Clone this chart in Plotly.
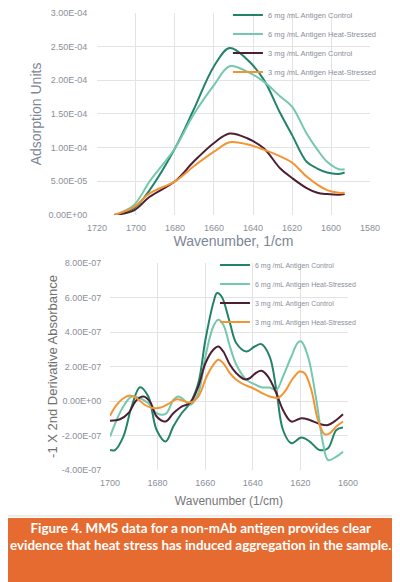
"""MMS spectra: absorbance and -1 x 2nd derivative for a non-mAb antigen"""

import plotly.graph_objects as go

# ---- top panel: absorbance spectra ----
wn_top = [1711, 1701, 1693, 1680, 1670.5, 1660, 1652, 1643, 1634.5, 1626, 1620,
          1612.5, 1607, 1602, 1596, 1593]
abs_6_ctrl = [0, 1.0e-5, 3.7e-5, 9.9e-5, 1.56e-4, 2.21e-4, 2.48e-4, 2.31e-4, 2.01e-4,
              1.51e-4, 1.19e-4, 7.9e-5, 6.9e-5, 6.3e-5, 6.1e-5, 6.3e-5]
abs_6_heat = [0, 1.5e-5, 5.0e-5, 9.9e-5, 1.49e-4, 1.93e-4, 2.21e-4, 2.13e-4, 1.98e-4,
              1.76e-4, 1.61e-4, 1.21e-4, 9.7e-5, 7.9e-5, 6.8e-5, 6.8e-5]
abs_3_ctrl = [0, 7e-6, 2.7e-5, 5.0e-5, 7.9e-5, 1.07e-4, 1.21e-4, 1.14e-4, 9.9e-5,
              6.9e-5, 5.5e-5, 4.0e-5, 3.3e-5, 3.1e-5, 3.0e-5, 3.1e-5]
abs_3_heat = [0, 1.2e-5, 3.2e-5, 5.0e-5, 7.2e-5, 9.4e-5, 1.08e-4, 1.05e-4, 9.7e-5,
              8.7e-5, 7.8e-5, 5.7e-5, 4.5e-5, 3.7e-5, 3.3e-5, 3.3e-5]

top_ytickvals = [0, 5e-5, 1e-4, 1.5e-4, 2e-4, 2.5e-4, 3e-4]
top_yticktext = ["0.00E+00", "5.00E-05", "1.00E-04", "1.50E-04", "2.00E-04",
                 "2.50E-04", "3.00E-04"]

# ---- bottom panel: -1 x 2nd derivative ----
wn_6_ctrl = [1700, 1697.9, 1694.4, 1690.9, 1687.4, 1683.9, 1680.4, 1676.6, 1673.4,
             1669.9, 1666.4, 1662.9, 1659.9, 1656.6, 1655, 1653.1, 1649.6, 1646.9,
             1642.7, 1639.2, 1636.4, 1632.9, 1630.1, 1627.3, 1623.8, 1619.6, 1616.1,
             1611.9, 1608.4, 1604.9, 1602.1]
d2_6_ctrl = [-2.84e-7, -2.84e-7, -2.06e-7, -3.2e-8, 8.0e-8, 2.6e-8, -1.68e-7, -2.35e-7,
             -1.48e-7, -7.1e-8, -1.3e-8, 1.03e-7, 3.55e-7, 5.68e-7, 6.26e-7, 6.06e-7,
             4.52e-7, 3.35e-7, 2.87e-7, 3.16e-7, 3.30e-7, 2.58e-7, 6.4e-8, -1.68e-7,
             -2.45e-7, -2.12e-7, -2.35e-7, -2.84e-7, -2.74e-7, -1.68e-7, -1.54e-7]

wn_6_heat = [1700, 1697.2, 1694.4, 1690.9, 1687.4, 1683.9, 1680.4, 1676.6, 1673.4,
             1671.3, 1669.2, 1666.4, 1662.9, 1659.9, 1656.6, 1654.5, 1652.4, 1649.6,
             1646.9, 1642.7, 1639.2, 1636.4, 1632.9, 1630.1, 1627.3, 1623.8, 1621,
             1619.6, 1616.8, 1613.3, 1610.5, 1608.4, 1604.9, 1602.1]
d2_6_heat = [-2.06e-7, -1.10e-7, -3.2e-8, 2.6e-8, 1.6e-8, -1.3e-8, -7.1e-8, -7.5e-8,
             6e-9, 2.6e-8, 1e-8, -2.3e-8, 4.5e-8, 2.58e-7, 4.32e-7, 4.71e-7, 4.42e-7,
             3.16e-7, 2.10e-7, 1.23e-7, 9.7e-8, 8.0e-8, 7.8e-8, 6.4e-8, 1.42e-7,
             2.58e-7, 3.39e-7, 3.45e-7, 2.58e-7, 6e-9, -2.45e-7, -3.42e-7, -3.23e-7,
             -2.94e-7]

wn_3_ctrl = [1700, 1695.8, 1692.3, 1688.8, 1686, 1683.2, 1680.4, 1676.6, 1673.4,
             1669.9, 1666.4, 1662.9, 1659.9, 1656.6, 1654.5, 1652.4, 1649.6, 1646.9,
             1643.4, 1641.3, 1638.5, 1636.4, 1633.6, 1630.1, 1627.3, 1623.8, 1619.6,
             1616.1, 1611.9, 1608.4, 1604.9, 1602.1]
d2_3_ctrl = [-1.14e-7, -1.06e-7, -7.1e-8, 6e-9, 2.6e-8, -3e-9, -9.0e-8, -1.19e-7,
             -7.1e-8, -3.2e-8, -1.3e-8, 8.4e-8, 2.19e-7, 2.97e-7, 3.16e-7, 2.87e-7,
             2.10e-7, 1.61e-7, 1.26e-7, 1.32e-7, 1.65e-7, 1.75e-7, 1.42e-7, 4.5e-8,
             -5.2e-8, -1.19e-7, -1.0e-7, -1.1e-7, -1.33e-7, -1.39e-7, -1.10e-7, -7.7e-8]

wn_3_heat = [1700, 1697.2, 1694.4, 1691.6, 1688.8, 1685.3, 1682.5, 1679, 1675.5, 1672,
             1669.2, 1666.4, 1662.9, 1659.4, 1656.6, 1654.5, 1652.4, 1649.6, 1646.9,
             1643.4, 1639.9, 1636.4, 1632.9, 1629.4, 1626.6, 1623.1, 1620.3, 1618.2,
             1615.4, 1612.6, 1609.8, 1607.7, 1604.9, 1602.1]
d2_3_heat = [-8.5e-8, -2.3e-8, 1.6e-8, 3.2e-8, 1.6e-8, -2.3e-8, -3.9e-8, -3.9e-8,
             -1.7e-8, 1e-8, 2e-9, -9e-9, 2.6e-8, 1.42e-7, 2.10e-7, 2.39e-7, 2.19e-7,
             1.61e-7, 1.23e-7, 9.3e-8, 7.4e-8, 4.8e-8, 2.6e-8, 1.9e-8, 5.4e-8, 1.32e-7,
             1.71e-7, 1.61e-7, 6.4e-8, -1.10e-7, -1.93e-7, -1.87e-7, -1.48e-7, -1.19e-7]

bot_ytickvals = [-4e-7, -2e-7, 0, 2e-7, 4e-7, 6e-7, 8e-7]
bot_yticktext = ["-4.00E-07", "-2.00E-07", "0.00E+00", "2.00E-07", "4.00E-07",
                 "6.00E-07", "8.00E-07"]

names = ["6 mg /mL Antigen Control", "6 mg /mL Antigen Heat-Stressed",
         "3 mg /mL Antigen Control", "3 mg /mL Antigen Heat-Stressed"]
colors = ["#23836a", "#74c8ad", "#4d1f33", "#f39433"]

caption = ("Figure 4. MMS data for a non-mAb antigen provides clear<br>"
           "evidence that heat stress has induced aggregation in the sample.")

TICKFONT = "Liberation Sans, Arial, sans-serif"
GRID = "#e3e3e3"
# page body keeps its default 8px margin, so the figure is 8px smaller each way
W, H = 392, 574

fig = go.Figure()

top_series = [abs_6_ctrl, abs_6_heat, abs_3_ctrl, abs_3_heat]
for name, color, ys in zip(names, colors, top_series):
    fig.add_trace(go.Scatter(
        x=wn_top, y=ys, name=name, mode="lines", line=dict(color=color, width=2, shape="spline"),
        xaxis="x", yaxis="y", legend="legend"))

bot_series = [(wn_6_ctrl, d2_6_ctrl), (wn_6_heat, d2_6_heat),
              (wn_3_ctrl, d2_3_ctrl), (wn_3_heat, d2_3_heat)]
for name, color, (xs, ys) in zip(names, colors, bot_series):
    fig.add_trace(go.Scatter(
        x=xs, y=ys, name=name, mode="lines", line=dict(color=color, width=2, shape="spline"),
        xaxis="x2", yaxis="y2", legend="legend2"))

axis_common = dict(showgrid=True, gridcolor=GRID, gridwidth=1, zeroline=False,
                   showline=False, ticks="outside", tickcolor="rgba(0,0,0,0)", automargin=False,
                   tickfont=dict(family=TICKFONT, size=9, color="#8a8f99"))

fig.update_layout(
    width=W, height=H,
    margin=dict(l=0, r=0, t=0, b=0, autoexpand=False),
    paper_bgcolor="white", plot_bgcolor="white",
    font=dict(family="Liberation Sans, Arial, sans-serif", color="#7d8694"),
    xaxis=dict(domain=[0.227, 0.9235], range=[1720, 1580], dtick=20, anchor="y", ticklen=4,
               title=dict(text="Wavenumber, 1/cm", font=dict(size=14, color="#7d8694"), standoff=2),
               **axis_common),
    yaxis=dict(domain=[0.6394, 0.9913], range=[0, 3e-4], tickvals=top_ytickvals,
               ticktext=top_yticktext, anchor="x", ticklen=7,
               title=dict(text="Adsorption Units", font=dict(size=14, color="#7d8694"), standoff=3),
               **axis_common),
    xaxis2=dict(domain=[0.2602, 0.8673], range=[1700, 1600], dtick=20, anchor="y2", ticklen=4,
                title=dict(text="Wavenumber (1/cm)", font=dict(size=12, color="#777"), standoff=9),
                **axis_common),
    yaxis2=dict(domain=[0.1951, 0.5557], range=[-4e-7, 8e-7], tickvals=bot_ytickvals,
                ticktext=bot_yticktext, anchor="x2", ticklen=6,
                title=dict(text="-1 X 2nd Derivative Absorbance", font=dict(size=13, color="#6f6f6f"),
                           standoff=1),
                **axis_common),
    legend=dict(x=0.561, y=1.0129, xanchor="left", yanchor="top", bgcolor="rgba(0,0,0,0)",
                font=dict(family=TICKFONT, size=7.5, color="#8a8f99"), itemwidth=30),
    legend2=dict(x=0.528, y=0.5775, xanchor="left", yanchor="top", bgcolor="rgba(0,0,0,0)",
                 font=dict(family=TICKFONT, size=7, color="#8a8f99"), itemwidth=30),
    showlegend=True,
)

# orange caption band
fig.add_shape(type="rect", xref="paper", yref="paper", x0=0, x1=1, y0=0, y1=0.1115,
              fillcolor="#e66b30", line=dict(width=0), layer="below")
fig.add_shape(type="line", xref="paper", yref="paper", x0=0, x1=1, y0=0.115, y1=0.115,
              line=dict(color="#ead9cf", width=1))
fig.add_annotation(text="<b>" + caption + "</b>", xref="paper", yref="paper", x=0.492, y=0.047,
                   showarrow=False, align="center",
                   font=dict(family="Lato, Open Sans, sans-serif", size=13.4, color="white"))

fig.write_html("out.html")
